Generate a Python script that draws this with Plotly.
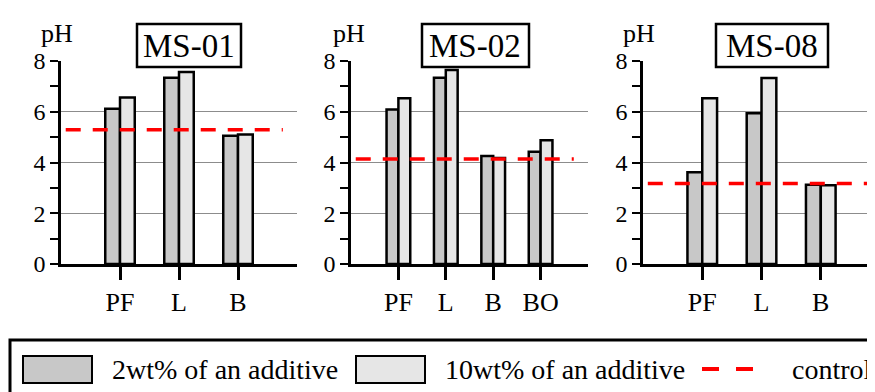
import plotly.graph_objects as go

# ---- data ----
cats_ms01 = ["PF", "L", "B"]
ms01_2wt = [6.12, 7.34, 5.05]
ms01_10wt = [6.56, 7.57, 5.10]
ms01_control = 5.29

cats_ms02 = ["PF", "L", "B", "BO"]
ms02_2wt = [6.09, 7.34, 4.26, 4.42]
ms02_10wt = [6.53, 7.65, 4.18, 4.88]
ms02_control = 4.14

cats_ms08 = ["PF", "L", "B"]
ms08_2wt = [3.62, 5.94, 3.12]
ms08_10wt = [6.53, 7.33, 3.10]
ms08_control = 3.17

panel_titles = ["MS-01", "MS-02", "MS-08"]
y_ticks = [0, 2, 4, 6, 8]
legend_labels = ["2wt% of an additive", "10wt% of an additive", "control"]

# ---- style ----
W, H = 875, 392
OFF = 8  # default page body margin
FONT = "Liberation Serif, Times New Roman, Times, serif"
DARK = "#c8c8c8"
LIGHT = "#e6e6e6"
RED = "#ff0000"

def px(x):
    return (x - OFF) / W

def py(y):
    return 1 - (y - OFF) / H

panels = [
    dict(cats=cats_ms01, a=ms01_2wt, b=ms01_10wt, c=ms01_control,
         dom=(61, 297), xr=[-1, 3], title_box=(137, 241), ph_x=57),
    dict(cats=cats_ms02, a=ms02_2wt, b=ms02_10wt, c=ms02_control,
         dom=(351, 588), xr=[-1, 4], title_box=(422, 529), ph_x=349),
    dict(cats=cats_ms08, a=ms08_2wt, b=ms08_10wt, c=ms08_control,
         dom=(643, 883), xr=[-1, 3.05], title_box=(716, 828), ph_x=639),
]

ytop, ybot = 61, 264

fig = go.Figure()
shapes = []
annotations = []
layout = {}

for i, p in enumerate(panels):
    k = "" if i == 0 else str(i + 1)
    xa, ya = "x" + k, "y" + k
    fig.add_trace(go.Bar(x=p["cats"], y=p["a"], xaxis=xa, yaxis=ya,
                         marker=dict(color=DARK, line=dict(color="black", width=2.5)),
                         showlegend=False))
    fig.add_trace(go.Bar(x=p["cats"], y=p["b"], xaxis=xa, yaxis=ya,
                         marker=dict(color=LIGHT, line=dict(color="black", width=2.5)),
                         showlegend=False))
    layout["xaxis" + k] = dict(
        domain=[px(p["dom"][0]), min(1.0, px(p["dom"][1]))], anchor=ya,
        type="category", range=p["xr"], showgrid=False, zeroline=False,
        showline=True, linecolor="black", linewidth=2.5,
        ticks="outside", ticklen=13, tickwidth=2.5, tickcolor="black",
        tickfont=dict(family=FONT, size=26, color="black"),
        fixedrange=True, automargin=False,
    )
    layout["yaxis" + k] = dict(
        domain=[py(ybot), py(ytop)], anchor=xa, range=[0, 8],
        tickvals=y_ticks, showgrid=True, gridcolor="#8c8c8c", gridwidth=1.2,
        zeroline=False, showline=True, linecolor="black", linewidth=2.5,
        ticks="outside", ticklen=8, tickwidth=2, tickcolor="black",
        minor=dict(dtick=1, ticks="outside", ticklen=8, tickwidth=2,
                   tickcolor="black", showgrid=False),
        tickfont=dict(family=FONT, size=24, color="black"),
        fixedrange=True, automargin=False,
    )
    # control line
    shapes.append(dict(type="line", xref=xa + " domain", yref=ya,
                       x0=0.02, x1=0.94 if i < 2 else 1.0, y0=p["c"], y1=p["c"],
                       line=dict(color=RED, width=3.5, dash="15px,12px"),
                       layer="above"))
    # title box
    x0, x1 = p["title_box"]
    shapes.append(dict(type="rect", xref="paper", yref="paper",
                       x0=px(x0), x1=px(x1), y0=py(67), y1=py(24),
                       line=dict(color="black", width=2.5), fillcolor="white",
                       layer="above"))
    annotations.append(dict(text=panel_titles[i], xref="paper", yref="paper",
                            x=px((x0 + x1) / 2), y=py(46), xanchor="center",
                            yanchor="middle", showarrow=False,
                            font=dict(family=FONT, size=33, color="black")))
    annotations.append(dict(text="pH", xref="paper", yref="paper",
                            x=px(p["ph_x"]), y=py(33), xanchor="center",
                            yanchor="middle", showarrow=False,
                            font=dict(family=FONT, size=26, color="black")))

# ---- custom legend ----
shapes.append(dict(type="rect", xref="paper", yref="paper",
                   x0=px(10), x1=px(900), y0=py(410), y1=py(340),
                   line=dict(color="black", width=3), fillcolor="rgba(0,0,0,0)"))
shapes.append(dict(type="rect", xref="paper", yref="paper",
                   x0=px(23), x1=px(92), y0=py(383), y1=py(356),
                   line=dict(color="black", width=2), fillcolor=DARK))
shapes.append(dict(type="rect", xref="paper", yref="paper",
                   x0=px(356), x1=px(425), y0=py(383), y1=py(356),
                   line=dict(color="black", width=2), fillcolor=LIGHT))
shapes.append(dict(type="line", xref="paper", yref="paper",
                   x0=px(702), x1=px(753), y0=py(369), y1=py(369),
                   line=dict(color=RED, width=4, dash="17px,17px")))
for txt, x in zip(legend_labels, [110, 443, 790]):
    annotations.append(dict(text=txt, xref="paper", yref="paper",
                            x=px(x), y=py(369), xanchor="left", yanchor="middle",
                            showarrow=False,
                            font=dict(family=FONT, size=28, color="black")))

fig.update_layout(
    width=W, height=H, margin=dict(l=0, r=0, t=0, b=0, autoexpand=False),
    paper_bgcolor="white", plot_bgcolor="white",
    barmode="group", bargap=0.5, bargroupgap=0,
    shapes=shapes, annotations=annotations, showlegend=False,
    **layout,
)

fig.write_html("out.html", config={"displayModeBar": False})
